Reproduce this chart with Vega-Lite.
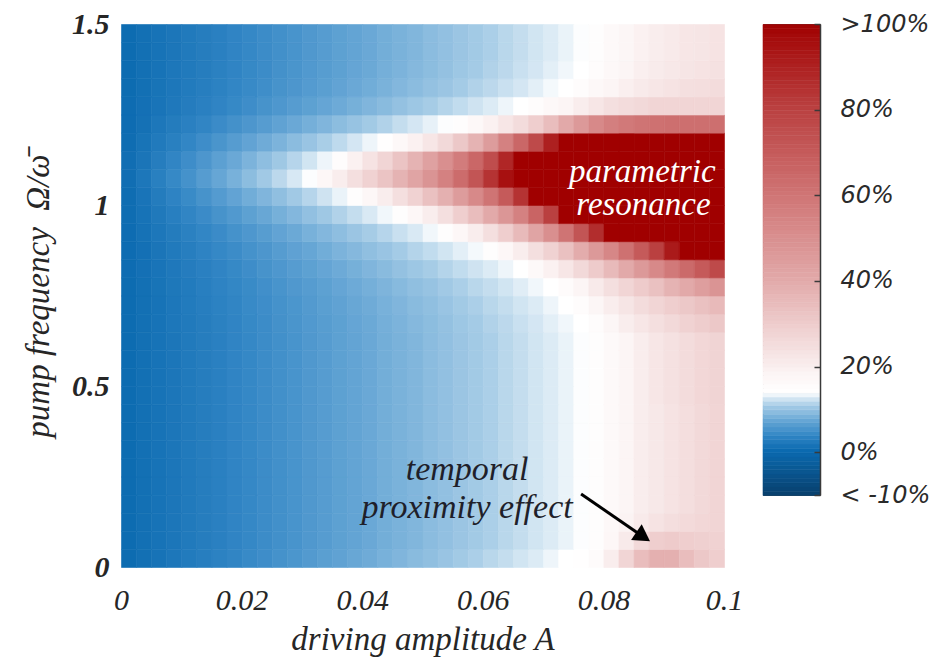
{
"$schema":"https://vega.github.io/schema/vega-lite/v6.json",
"background":"white",
"padding":{"left":22,"top":9,"right":5,"bottom":5},
"spacing":39,
"bounds":"flush",
"config":{"view":{"stroke":null},"axis":{"grid":false}},
"resolve":{"scale":{"color":"independent","stroke":"independent"}},
"datasets":{
"field":[
{"a":0,"w":0,"v":0.2},{"a":0.0025,"w":0,"v":0.7},{"a":0.005,"w":0,"v":1.1},{"a":0.0075,"w":0,"v":1.6},{"a":0.01,"w":0,"v":2.1},{"a":0.0125,"w":0,"v":2.5},{"a":0.015,"w":0,"v":3.0},{"a":0.0175,"w":0,"v":3.4},{"a":0.02,"w":0,"v":3.9},{"a":0.0225,"w":0,"v":4.3},{"a":0.025,"w":0,"v":4.8},{"a":0.0275,"w":0,"v":5.2},{"a":0.03,"w":0,"v":5.7},{"a":0.0325,"w":0,"v":6.2},{"a":0.035,"w":0,"v":6.6},{"a":0.0375,"w":0,"v":7.1},{"a":0.04,"w":0,"v":7.5},{"a":0.0425,"w":0,"v":8.0},{"a":0.045,"w":0,"v":8.4},{"a":0.0475,"w":0,"v":8.9},{"a":0.05,"w":0,"v":9.3},{"a":0.0525,"w":0,"v":9.8},{"a":0.055,"w":0,"v":10.3},{"a":0.0575,"w":0,"v":10.7},{"a":0.06,"w":0,"v":11.2},{"a":0.0625,"w":0,"v":11.6},{"a":0.065,"w":0,"v":12.1},{"a":0.0675,"w":0,"v":12.5},{"a":0.07,"w":0,"v":13.0},{"a":0.0725,"w":0,"v":13.5},{"a":0.075,"w":0,"v":14},{"a":0.0775,"w":0,"v":15.5},{"a":0.08,"w":0,"v":20},{"a":0.0825,"w":0,"v":27},{"a":0.085,"w":0,"v":34},{"a":0.0875,"w":0,"v":38},{"a":0.09,"w":0,"v":38},{"a":0.0925,"w":0,"v":34},{"a":0.095,"w":0,"v":31},{"a":0.0975,"w":0,"v":29},
{"a":0,"w":0.05,"v":0.2},{"a":0.0025,"w":0.05,"v":0.7},{"a":0.005,"w":0.05,"v":1.1},{"a":0.0075,"w":0.05,"v":1.5},{"a":0.01,"w":0.05,"v":2.0},{"a":0.0125,"w":0.05,"v":2.4},{"a":0.015,"w":0.05,"v":2.8},{"a":0.0175,"w":0.05,"v":3.3},{"a":0.02,"w":0.05,"v":3.7},{"a":0.0225,"w":0.05,"v":4.2},{"a":0.025,"w":0.05,"v":4.6},{"a":0.0275,"w":0.05,"v":5.0},{"a":0.03,"w":0.05,"v":5.5},{"a":0.0325,"w":0.05,"v":5.9},{"a":0.035,"w":0.05,"v":6.4},{"a":0.0375,"w":0.05,"v":6.8},{"a":0.04,"w":0.05,"v":7.2},{"a":0.0425,"w":0.05,"v":7.7},{"a":0.045,"w":0.05,"v":8.1},{"a":0.0475,"w":0.05,"v":8.5},{"a":0.05,"w":0.05,"v":9.0},{"a":0.0525,"w":0.05,"v":9.4},{"a":0.055,"w":0.05,"v":9.9},{"a":0.0575,"w":0.05,"v":10.3},{"a":0.06,"w":0.05,"v":10.7},{"a":0.0625,"w":0.05,"v":11.2},{"a":0.065,"w":0.05,"v":11.6},{"a":0.0675,"w":0.05,"v":12.1},{"a":0.07,"w":0.05,"v":12.5},{"a":0.0725,"w":0.05,"v":12.9},{"a":0.075,"w":0.05,"v":13.4},{"a":0.0775,"w":0.05,"v":14.5},{"a":0.08,"w":0.05,"v":17},{"a":0.0825,"w":0.05,"v":21},{"a":0.085,"w":0.05,"v":26},{"a":0.0875,"w":0.05,"v":29},{"a":0.09,"w":0.05,"v":30},{"a":0.0925,"w":0.05,"v":29},{"a":0.095,"w":0.05,"v":28.5},{"a":0.0975,"w":0.05,"v":28},
{"a":0,"w":0.1,"v":0.2},{"a":0.0025,"w":0.1,"v":0.7},{"a":0.005,"w":0.1,"v":1.1},{"a":0.0075,"w":0.1,"v":1.5},{"a":0.01,"w":0.1,"v":2.0},{"a":0.0125,"w":0.1,"v":2.4},{"a":0.015,"w":0.1,"v":2.8},{"a":0.0175,"w":0.1,"v":3.3},{"a":0.02,"w":0.1,"v":3.7},{"a":0.0225,"w":0.1,"v":4.2},{"a":0.025,"w":0.1,"v":4.6},{"a":0.0275,"w":0.1,"v":5.0},{"a":0.03,"w":0.1,"v":5.5},{"a":0.0325,"w":0.1,"v":5.9},{"a":0.035,"w":0.1,"v":6.4},{"a":0.0375,"w":0.1,"v":6.8},{"a":0.04,"w":0.1,"v":7.2},{"a":0.0425,"w":0.1,"v":7.7},{"a":0.045,"w":0.1,"v":8.1},{"a":0.0475,"w":0.1,"v":8.5},{"a":0.05,"w":0.1,"v":9.0},{"a":0.0525,"w":0.1,"v":9.4},{"a":0.055,"w":0.1,"v":9.9},{"a":0.0575,"w":0.1,"v":10.3},{"a":0.06,"w":0.1,"v":10.7},{"a":0.0625,"w":0.1,"v":11.2},{"a":0.065,"w":0.1,"v":11.6},{"a":0.0675,"w":0.1,"v":12.1},{"a":0.07,"w":0.1,"v":12.5},{"a":0.0725,"w":0.1,"v":12.9},{"a":0.075,"w":0.1,"v":13.4},{"a":0.0775,"w":0.1,"v":14.5},{"a":0.08,"w":0.1,"v":16.5},{"a":0.0825,"w":0.1,"v":18.5},{"a":0.085,"w":0.1,"v":21},{"a":0.0875,"w":0.1,"v":23},{"a":0.09,"w":0.1,"v":24.5},{"a":0.0925,"w":0.1,"v":25.5},{"a":0.095,"w":0.1,"v":26.5},{"a":0.0975,"w":0.1,"v":27},
{"a":0,"w":0.15,"v":0.2},{"a":0.0025,"w":0.15,"v":0.7},{"a":0.005,"w":0.15,"v":1.1},{"a":0.0075,"w":0.15,"v":1.5},{"a":0.01,"w":0.15,"v":2.0},{"a":0.0125,"w":0.15,"v":2.4},{"a":0.015,"w":0.15,"v":2.8},{"a":0.0175,"w":0.15,"v":3.3},{"a":0.02,"w":0.15,"v":3.7},{"a":0.0225,"w":0.15,"v":4.2},{"a":0.025,"w":0.15,"v":4.6},{"a":0.0275,"w":0.15,"v":5.0},{"a":0.03,"w":0.15,"v":5.5},{"a":0.0325,"w":0.15,"v":5.9},{"a":0.035,"w":0.15,"v":6.4},{"a":0.0375,"w":0.15,"v":6.8},{"a":0.04,"w":0.15,"v":7.2},{"a":0.0425,"w":0.15,"v":7.7},{"a":0.045,"w":0.15,"v":8.1},{"a":0.0475,"w":0.15,"v":8.5},{"a":0.05,"w":0.15,"v":9.0},{"a":0.0525,"w":0.15,"v":9.4},{"a":0.055,"w":0.15,"v":9.9},{"a":0.0575,"w":0.15,"v":10.3},{"a":0.06,"w":0.15,"v":10.7},{"a":0.0625,"w":0.15,"v":11.2},{"a":0.065,"w":0.15,"v":11.6},{"a":0.0675,"w":0.15,"v":12.1},{"a":0.07,"w":0.15,"v":12.5},{"a":0.0725,"w":0.15,"v":12.9},{"a":0.075,"w":0.15,"v":13.4},{"a":0.0775,"w":0.15,"v":14.5},{"a":0.08,"w":0.15,"v":16},{"a":0.0825,"w":0.15,"v":18},{"a":0.085,"w":0.15,"v":20},{"a":0.0875,"w":0.15,"v":21.5},{"a":0.09,"w":0.15,"v":23},{"a":0.0925,"w":0.15,"v":24.5},{"a":0.095,"w":0.15,"v":26},{"a":0.0975,"w":0.15,"v":27},
{"a":0,"w":0.2,"v":0.2},{"a":0.0025,"w":0.2,"v":0.7},{"a":0.005,"w":0.2,"v":1.1},{"a":0.0075,"w":0.2,"v":1.5},{"a":0.01,"w":0.2,"v":2.0},{"a":0.0125,"w":0.2,"v":2.4},{"a":0.015,"w":0.2,"v":2.8},{"a":0.0175,"w":0.2,"v":3.3},{"a":0.02,"w":0.2,"v":3.7},{"a":0.0225,"w":0.2,"v":4.2},{"a":0.025,"w":0.2,"v":4.6},{"a":0.0275,"w":0.2,"v":5.0},{"a":0.03,"w":0.2,"v":5.5},{"a":0.0325,"w":0.2,"v":5.9},{"a":0.035,"w":0.2,"v":6.4},{"a":0.0375,"w":0.2,"v":6.8},{"a":0.04,"w":0.2,"v":7.2},{"a":0.0425,"w":0.2,"v":7.7},{"a":0.045,"w":0.2,"v":8.1},{"a":0.0475,"w":0.2,"v":8.5},{"a":0.05,"w":0.2,"v":9.0},{"a":0.0525,"w":0.2,"v":9.4},{"a":0.055,"w":0.2,"v":9.9},{"a":0.0575,"w":0.2,"v":10.3},{"a":0.06,"w":0.2,"v":10.7},{"a":0.0625,"w":0.2,"v":11.2},{"a":0.065,"w":0.2,"v":11.6},{"a":0.0675,"w":0.2,"v":12.1},{"a":0.07,"w":0.2,"v":12.5},{"a":0.0725,"w":0.2,"v":12.9},{"a":0.075,"w":0.2,"v":13.4},{"a":0.0775,"w":0.2,"v":14.5},{"a":0.08,"w":0.2,"v":16},{"a":0.0825,"w":0.2,"v":18},{"a":0.085,"w":0.2,"v":20},{"a":0.0875,"w":0.2,"v":21.5},{"a":0.09,"w":0.2,"v":23},{"a":0.0925,"w":0.2,"v":24.5},{"a":0.095,"w":0.2,"v":26},{"a":0.0975,"w":0.2,"v":27},
{"a":0,"w":0.25,"v":0.2},{"a":0.0025,"w":0.25,"v":0.7},{"a":0.005,"w":0.25,"v":1.1},{"a":0.0075,"w":0.25,"v":1.5},{"a":0.01,"w":0.25,"v":2.0},{"a":0.0125,"w":0.25,"v":2.4},{"a":0.015,"w":0.25,"v":2.8},{"a":0.0175,"w":0.25,"v":3.3},{"a":0.02,"w":0.25,"v":3.7},{"a":0.0225,"w":0.25,"v":4.2},{"a":0.025,"w":0.25,"v":4.6},{"a":0.0275,"w":0.25,"v":5.0},{"a":0.03,"w":0.25,"v":5.5},{"a":0.0325,"w":0.25,"v":5.9},{"a":0.035,"w":0.25,"v":6.4},{"a":0.0375,"w":0.25,"v":6.8},{"a":0.04,"w":0.25,"v":7.2},{"a":0.0425,"w":0.25,"v":7.7},{"a":0.045,"w":0.25,"v":8.1},{"a":0.0475,"w":0.25,"v":8.5},{"a":0.05,"w":0.25,"v":9.0},{"a":0.0525,"w":0.25,"v":9.4},{"a":0.055,"w":0.25,"v":9.9},{"a":0.0575,"w":0.25,"v":10.3},{"a":0.06,"w":0.25,"v":10.7},{"a":0.0625,"w":0.25,"v":11.2},{"a":0.065,"w":0.25,"v":11.6},{"a":0.0675,"w":0.25,"v":12.1},{"a":0.07,"w":0.25,"v":12.5},{"a":0.0725,"w":0.25,"v":12.9},{"a":0.075,"w":0.25,"v":13.4},{"a":0.0775,"w":0.25,"v":14.5},{"a":0.08,"w":0.25,"v":16},{"a":0.0825,"w":0.25,"v":18},{"a":0.085,"w":0.25,"v":20},{"a":0.0875,"w":0.25,"v":21.5},{"a":0.09,"w":0.25,"v":23},{"a":0.0925,"w":0.25,"v":24.5},{"a":0.095,"w":0.25,"v":26},{"a":0.0975,"w":0.25,"v":27},
{"a":0,"w":0.3,"v":0.2},{"a":0.0025,"w":0.3,"v":0.7},{"a":0.005,"w":0.3,"v":1.1},{"a":0.0075,"w":0.3,"v":1.5},{"a":0.01,"w":0.3,"v":2.0},{"a":0.0125,"w":0.3,"v":2.4},{"a":0.015,"w":0.3,"v":2.8},{"a":0.0175,"w":0.3,"v":3.3},{"a":0.02,"w":0.3,"v":3.7},{"a":0.0225,"w":0.3,"v":4.2},{"a":0.025,"w":0.3,"v":4.6},{"a":0.0275,"w":0.3,"v":5.0},{"a":0.03,"w":0.3,"v":5.5},{"a":0.0325,"w":0.3,"v":5.9},{"a":0.035,"w":0.3,"v":6.4},{"a":0.0375,"w":0.3,"v":6.8},{"a":0.04,"w":0.3,"v":7.2},{"a":0.0425,"w":0.3,"v":7.7},{"a":0.045,"w":0.3,"v":8.1},{"a":0.0475,"w":0.3,"v":8.5},{"a":0.05,"w":0.3,"v":9.0},{"a":0.0525,"w":0.3,"v":9.4},{"a":0.055,"w":0.3,"v":9.9},{"a":0.0575,"w":0.3,"v":10.3},{"a":0.06,"w":0.3,"v":10.7},{"a":0.0625,"w":0.3,"v":11.2},{"a":0.065,"w":0.3,"v":11.6},{"a":0.0675,"w":0.3,"v":12.1},{"a":0.07,"w":0.3,"v":12.5},{"a":0.0725,"w":0.3,"v":12.9},{"a":0.075,"w":0.3,"v":13.4},{"a":0.0775,"w":0.3,"v":14.5},{"a":0.08,"w":0.3,"v":16},{"a":0.0825,"w":0.3,"v":18},{"a":0.085,"w":0.3,"v":20},{"a":0.0875,"w":0.3,"v":21.5},{"a":0.09,"w":0.3,"v":23},{"a":0.0925,"w":0.3,"v":24.5},{"a":0.095,"w":0.3,"v":26},{"a":0.0975,"w":0.3,"v":27},
{"a":0,"w":0.35,"v":0.2},{"a":0.0025,"w":0.35,"v":0.7},{"a":0.005,"w":0.35,"v":1.1},{"a":0.0075,"w":0.35,"v":1.5},{"a":0.01,"w":0.35,"v":2.0},{"a":0.0125,"w":0.35,"v":2.4},{"a":0.015,"w":0.35,"v":2.8},{"a":0.0175,"w":0.35,"v":3.3},{"a":0.02,"w":0.35,"v":3.7},{"a":0.0225,"w":0.35,"v":4.2},{"a":0.025,"w":0.35,"v":4.6},{"a":0.0275,"w":0.35,"v":5.0},{"a":0.03,"w":0.35,"v":5.5},{"a":0.0325,"w":0.35,"v":5.9},{"a":0.035,"w":0.35,"v":6.4},{"a":0.0375,"w":0.35,"v":6.8},{"a":0.04,"w":0.35,"v":7.2},{"a":0.0425,"w":0.35,"v":7.7},{"a":0.045,"w":0.35,"v":8.1},{"a":0.0475,"w":0.35,"v":8.5},{"a":0.05,"w":0.35,"v":9.0},{"a":0.0525,"w":0.35,"v":9.4},{"a":0.055,"w":0.35,"v":9.9},{"a":0.0575,"w":0.35,"v":10.3},{"a":0.06,"w":0.35,"v":10.7},{"a":0.0625,"w":0.35,"v":11.2},{"a":0.065,"w":0.35,"v":11.6},{"a":0.0675,"w":0.35,"v":12.1},{"a":0.07,"w":0.35,"v":12.5},{"a":0.0725,"w":0.35,"v":12.9},{"a":0.075,"w":0.35,"v":13.4},{"a":0.0775,"w":0.35,"v":14.5},{"a":0.08,"w":0.35,"v":16},{"a":0.0825,"w":0.35,"v":18},{"a":0.085,"w":0.35,"v":20},{"a":0.0875,"w":0.35,"v":21.5},{"a":0.09,"w":0.35,"v":23},{"a":0.0925,"w":0.35,"v":24.5},{"a":0.095,"w":0.35,"v":26},{"a":0.0975,"w":0.35,"v":27},
{"a":0,"w":0.4,"v":0.2},{"a":0.0025,"w":0.4,"v":0.7},{"a":0.005,"w":0.4,"v":1.1},{"a":0.0075,"w":0.4,"v":1.5},{"a":0.01,"w":0.4,"v":2.0},{"a":0.0125,"w":0.4,"v":2.4},{"a":0.015,"w":0.4,"v":2.8},{"a":0.0175,"w":0.4,"v":3.3},{"a":0.02,"w":0.4,"v":3.7},{"a":0.0225,"w":0.4,"v":4.2},{"a":0.025,"w":0.4,"v":4.6},{"a":0.0275,"w":0.4,"v":5.0},{"a":0.03,"w":0.4,"v":5.5},{"a":0.0325,"w":0.4,"v":5.9},{"a":0.035,"w":0.4,"v":6.4},{"a":0.0375,"w":0.4,"v":6.8},{"a":0.04,"w":0.4,"v":7.2},{"a":0.0425,"w":0.4,"v":7.7},{"a":0.045,"w":0.4,"v":8.1},{"a":0.0475,"w":0.4,"v":8.5},{"a":0.05,"w":0.4,"v":9.0},{"a":0.0525,"w":0.4,"v":9.4},{"a":0.055,"w":0.4,"v":9.9},{"a":0.0575,"w":0.4,"v":10.3},{"a":0.06,"w":0.4,"v":10.7},{"a":0.0625,"w":0.4,"v":11.2},{"a":0.065,"w":0.4,"v":11.6},{"a":0.0675,"w":0.4,"v":12.1},{"a":0.07,"w":0.4,"v":12.5},{"a":0.0725,"w":0.4,"v":12.9},{"a":0.075,"w":0.4,"v":13.4},{"a":0.0775,"w":0.4,"v":14.5},{"a":0.08,"w":0.4,"v":16},{"a":0.0825,"w":0.4,"v":18},{"a":0.085,"w":0.4,"v":20},{"a":0.0875,"w":0.4,"v":21.5},{"a":0.09,"w":0.4,"v":23},{"a":0.0925,"w":0.4,"v":24.5},{"a":0.095,"w":0.4,"v":26},{"a":0.0975,"w":0.4,"v":27},
{"a":0,"w":0.45,"v":0.2},{"a":0.0025,"w":0.45,"v":0.7},{"a":0.005,"w":0.45,"v":1.1},{"a":0.0075,"w":0.45,"v":1.5},{"a":0.01,"w":0.45,"v":2.0},{"a":0.0125,"w":0.45,"v":2.4},{"a":0.015,"w":0.45,"v":2.8},{"a":0.0175,"w":0.45,"v":3.3},{"a":0.02,"w":0.45,"v":3.7},{"a":0.0225,"w":0.45,"v":4.2},{"a":0.025,"w":0.45,"v":4.6},{"a":0.0275,"w":0.45,"v":5.0},{"a":0.03,"w":0.45,"v":5.5},{"a":0.0325,"w":0.45,"v":5.9},{"a":0.035,"w":0.45,"v":6.4},{"a":0.0375,"w":0.45,"v":6.8},{"a":0.04,"w":0.45,"v":7.2},{"a":0.0425,"w":0.45,"v":7.7},{"a":0.045,"w":0.45,"v":8.1},{"a":0.0475,"w":0.45,"v":8.5},{"a":0.05,"w":0.45,"v":9.0},{"a":0.0525,"w":0.45,"v":9.4},{"a":0.055,"w":0.45,"v":9.9},{"a":0.0575,"w":0.45,"v":10.3},{"a":0.06,"w":0.45,"v":10.7},{"a":0.0625,"w":0.45,"v":11.2},{"a":0.065,"w":0.45,"v":11.6},{"a":0.0675,"w":0.45,"v":12.1},{"a":0.07,"w":0.45,"v":12.5},{"a":0.0725,"w":0.45,"v":12.9},{"a":0.075,"w":0.45,"v":13.4},{"a":0.0775,"w":0.45,"v":14.5},{"a":0.08,"w":0.45,"v":16},{"a":0.0825,"w":0.45,"v":18},{"a":0.085,"w":0.45,"v":20},{"a":0.0875,"w":0.45,"v":22},{"a":0.09,"w":0.45,"v":23.5},{"a":0.0925,"w":0.45,"v":25},{"a":0.095,"w":0.45,"v":26.5},{"a":0.0975,"w":0.45,"v":27.5},
{"a":0,"w":0.5,"v":0.2},{"a":0.0025,"w":0.5,"v":0.7},{"a":0.005,"w":0.5,"v":1.1},{"a":0.0075,"w":0.5,"v":1.5},{"a":0.01,"w":0.5,"v":2.0},{"a":0.0125,"w":0.5,"v":2.4},{"a":0.015,"w":0.5,"v":2.8},{"a":0.0175,"w":0.5,"v":3.3},{"a":0.02,"w":0.5,"v":3.7},{"a":0.0225,"w":0.5,"v":4.2},{"a":0.025,"w":0.5,"v":4.6},{"a":0.0275,"w":0.5,"v":5.0},{"a":0.03,"w":0.5,"v":5.5},{"a":0.0325,"w":0.5,"v":5.9},{"a":0.035,"w":0.5,"v":6.4},{"a":0.0375,"w":0.5,"v":6.8},{"a":0.04,"w":0.5,"v":7.2},{"a":0.0425,"w":0.5,"v":7.7},{"a":0.045,"w":0.5,"v":8.1},{"a":0.0475,"w":0.5,"v":8.5},{"a":0.05,"w":0.5,"v":9.0},{"a":0.0525,"w":0.5,"v":9.4},{"a":0.055,"w":0.5,"v":9.9},{"a":0.0575,"w":0.5,"v":10.3},{"a":0.06,"w":0.5,"v":10.7},{"a":0.0625,"w":0.5,"v":11.2},{"a":0.065,"w":0.5,"v":11.6},{"a":0.0675,"w":0.5,"v":12.1},{"a":0.07,"w":0.5,"v":12.5},{"a":0.0725,"w":0.5,"v":12.9},{"a":0.075,"w":0.5,"v":13.4},{"a":0.0775,"w":0.5,"v":14.5},{"a":0.08,"w":0.5,"v":16},{"a":0.0825,"w":0.5,"v":18},{"a":0.085,"w":0.5,"v":20},{"a":0.0875,"w":0.5,"v":22},{"a":0.09,"w":0.5,"v":23.5},{"a":0.0925,"w":0.5,"v":25},{"a":0.095,"w":0.5,"v":26.5},{"a":0.0975,"w":0.5,"v":27.5},
{"a":0,"w":0.55,"v":0.2},{"a":0.0025,"w":0.55,"v":0.7},{"a":0.005,"w":0.55,"v":1.1},{"a":0.0075,"w":0.55,"v":1.5},{"a":0.01,"w":0.55,"v":2.0},{"a":0.0125,"w":0.55,"v":2.4},{"a":0.015,"w":0.55,"v":2.8},{"a":0.0175,"w":0.55,"v":3.3},{"a":0.02,"w":0.55,"v":3.7},{"a":0.0225,"w":0.55,"v":4.2},{"a":0.025,"w":0.55,"v":4.6},{"a":0.0275,"w":0.55,"v":5.0},{"a":0.03,"w":0.55,"v":5.5},{"a":0.0325,"w":0.55,"v":5.9},{"a":0.035,"w":0.55,"v":6.4},{"a":0.0375,"w":0.55,"v":6.8},{"a":0.04,"w":0.55,"v":7.2},{"a":0.0425,"w":0.55,"v":7.7},{"a":0.045,"w":0.55,"v":8.1},{"a":0.0475,"w":0.55,"v":8.5},{"a":0.05,"w":0.55,"v":9.0},{"a":0.0525,"w":0.55,"v":9.4},{"a":0.055,"w":0.55,"v":9.9},{"a":0.0575,"w":0.55,"v":10.3},{"a":0.06,"w":0.55,"v":10.7},{"a":0.0625,"w":0.55,"v":11.2},{"a":0.065,"w":0.55,"v":11.6},{"a":0.0675,"w":0.55,"v":12.1},{"a":0.07,"w":0.55,"v":12.5},{"a":0.0725,"w":0.55,"v":12.9},{"a":0.075,"w":0.55,"v":13.4},{"a":0.0775,"w":0.55,"v":14.5},{"a":0.08,"w":0.55,"v":16},{"a":0.0825,"w":0.55,"v":18},{"a":0.085,"w":0.55,"v":20},{"a":0.0875,"w":0.55,"v":22},{"a":0.09,"w":0.55,"v":23.5},{"a":0.0925,"w":0.55,"v":25},{"a":0.095,"w":0.55,"v":26.5},{"a":0.0975,"w":0.55,"v":27.5},
{"a":0,"w":0.6,"v":0.2},{"a":0.0025,"w":0.6,"v":0.7},{"a":0.005,"w":0.6,"v":1.1},{"a":0.0075,"w":0.6,"v":1.5},{"a":0.01,"w":0.6,"v":2.0},{"a":0.0125,"w":0.6,"v":2.4},{"a":0.015,"w":0.6,"v":2.8},{"a":0.0175,"w":0.6,"v":3.3},{"a":0.02,"w":0.6,"v":3.7},{"a":0.0225,"w":0.6,"v":4.2},{"a":0.025,"w":0.6,"v":4.6},{"a":0.0275,"w":0.6,"v":5.0},{"a":0.03,"w":0.6,"v":5.5},{"a":0.0325,"w":0.6,"v":5.9},{"a":0.035,"w":0.6,"v":6.4},{"a":0.0375,"w":0.6,"v":6.8},{"a":0.04,"w":0.6,"v":7.2},{"a":0.0425,"w":0.6,"v":7.7},{"a":0.045,"w":0.6,"v":8.1},{"a":0.0475,"w":0.6,"v":8.5},{"a":0.05,"w":0.6,"v":9.0},{"a":0.0525,"w":0.6,"v":9.4},{"a":0.055,"w":0.6,"v":9.9},{"a":0.0575,"w":0.6,"v":10.3},{"a":0.06,"w":0.6,"v":10.7},{"a":0.0625,"w":0.6,"v":11.2},{"a":0.065,"w":0.6,"v":11.6},{"a":0.0675,"w":0.6,"v":12.1},{"a":0.07,"w":0.6,"v":12.5},{"a":0.0725,"w":0.6,"v":12.9},{"a":0.075,"w":0.6,"v":13.4},{"a":0.0775,"w":0.6,"v":14.5},{"a":0.08,"w":0.6,"v":16},{"a":0.0825,"w":0.6,"v":18},{"a":0.085,"w":0.6,"v":20},{"a":0.0875,"w":0.6,"v":22},{"a":0.09,"w":0.6,"v":23.5},{"a":0.0925,"w":0.6,"v":25},{"a":0.095,"w":0.6,"v":26.5},{"a":0.0975,"w":0.6,"v":27.5},
{"a":0,"w":0.65,"v":0.2},{"a":0.0025,"w":0.65,"v":0.7},{"a":0.005,"w":0.65,"v":1.1},{"a":0.0075,"w":0.65,"v":1.6},{"a":0.01,"w":0.65,"v":2.0},{"a":0.0125,"w":0.65,"v":2.4},{"a":0.015,"w":0.65,"v":2.9},{"a":0.0175,"w":0.65,"v":3.3},{"a":0.02,"w":0.65,"v":3.8},{"a":0.0225,"w":0.65,"v":4.2},{"a":0.025,"w":0.65,"v":4.7},{"a":0.0275,"w":0.65,"v":5.1},{"a":0.03,"w":0.65,"v":5.6},{"a":0.0325,"w":0.65,"v":6.0},{"a":0.035,"w":0.65,"v":6.4},{"a":0.0375,"w":0.65,"v":6.9},{"a":0.04,"w":0.65,"v":7.3},{"a":0.0425,"w":0.65,"v":7.8},{"a":0.045,"w":0.65,"v":8.2},{"a":0.0475,"w":0.65,"v":8.7},{"a":0.05,"w":0.65,"v":9.1},{"a":0.0525,"w":0.65,"v":9.5},{"a":0.055,"w":0.65,"v":10.0},{"a":0.0575,"w":0.65,"v":10.4},{"a":0.06,"w":0.65,"v":10.9},{"a":0.0625,"w":0.65,"v":11.3},{"a":0.065,"w":0.65,"v":11.8},{"a":0.0675,"w":0.65,"v":12.2},{"a":0.07,"w":0.65,"v":12.7},{"a":0.0725,"w":0.65,"v":13.1},{"a":0.075,"w":0.65,"v":13.6},{"a":0.0775,"w":0.65,"v":15},{"a":0.08,"w":0.65,"v":17.5},{"a":0.0825,"w":0.65,"v":20},{"a":0.085,"w":0.65,"v":22},{"a":0.0875,"w":0.65,"v":24},{"a":0.09,"w":0.65,"v":26},{"a":0.0925,"w":0.65,"v":28},{"a":0.095,"w":0.65,"v":29.5},{"a":0.0975,"w":0.65,"v":31},
{"a":0,"w":0.7,"v":0.2},{"a":0.0025,"w":0.7,"v":0.7},{"a":0.005,"w":0.7,"v":1.1},{"a":0.0075,"w":0.7,"v":1.6},{"a":0.01,"w":0.7,"v":2.1},{"a":0.0125,"w":0.7,"v":2.5},{"a":0.015,"w":0.7,"v":3.0},{"a":0.0175,"w":0.7,"v":3.4},{"a":0.02,"w":0.7,"v":3.9},{"a":0.0225,"w":0.7,"v":4.3},{"a":0.025,"w":0.7,"v":4.8},{"a":0.0275,"w":0.7,"v":5.2},{"a":0.03,"w":0.7,"v":5.7},{"a":0.0325,"w":0.7,"v":6.2},{"a":0.035,"w":0.7,"v":6.6},{"a":0.0375,"w":0.7,"v":7.1},{"a":0.04,"w":0.7,"v":7.5},{"a":0.0425,"w":0.7,"v":8.0},{"a":0.045,"w":0.7,"v":8.4},{"a":0.0475,"w":0.7,"v":8.9},{"a":0.05,"w":0.7,"v":9.3},{"a":0.0525,"w":0.7,"v":9.8},{"a":0.055,"w":0.7,"v":10.3},{"a":0.0575,"w":0.7,"v":10.7},{"a":0.06,"w":0.7,"v":11.2},{"a":0.0625,"w":0.7,"v":11.6},{"a":0.065,"w":0.7,"v":12.1},{"a":0.0675,"w":0.7,"v":12.5},{"a":0.07,"w":0.7,"v":13.0},{"a":0.0725,"w":0.7,"v":13.5},{"a":0.075,"w":0.7,"v":15},{"a":0.0775,"w":0.7,"v":17.5},{"a":0.08,"w":0.7,"v":20},{"a":0.0825,"w":0.7,"v":22.5},{"a":0.085,"w":0.7,"v":25},{"a":0.0875,"w":0.7,"v":27},{"a":0.09,"w":0.7,"v":29},{"a":0.0925,"w":0.7,"v":31},{"a":0.095,"w":0.7,"v":33},{"a":0.0975,"w":0.7,"v":35},
{"a":0,"w":0.75,"v":0.2},{"a":0.0025,"w":0.75,"v":0.7},{"a":0.005,"w":0.75,"v":1.2},{"a":0.0075,"w":0.75,"v":1.7},{"a":0.01,"w":0.75,"v":2.1},{"a":0.0125,"w":0.75,"v":2.6},{"a":0.015,"w":0.75,"v":3.1},{"a":0.0175,"w":0.75,"v":3.6},{"a":0.02,"w":0.75,"v":4.0},{"a":0.0225,"w":0.75,"v":4.5},{"a":0.025,"w":0.75,"v":5.0},{"a":0.0275,"w":0.75,"v":5.5},{"a":0.03,"w":0.75,"v":5.9},{"a":0.0325,"w":0.75,"v":6.4},{"a":0.035,"w":0.75,"v":6.9},{"a":0.0375,"w":0.75,"v":7.4},{"a":0.04,"w":0.75,"v":7.8},{"a":0.0425,"w":0.75,"v":8.3},{"a":0.045,"w":0.75,"v":8.8},{"a":0.0475,"w":0.75,"v":9.3},{"a":0.05,"w":0.75,"v":9.7},{"a":0.0525,"w":0.75,"v":10.2},{"a":0.055,"w":0.75,"v":10.7},{"a":0.0575,"w":0.75,"v":11.2},{"a":0.06,"w":0.75,"v":11.6},{"a":0.0625,"w":0.75,"v":12.1},{"a":0.065,"w":0.75,"v":12.6},{"a":0.0675,"w":0.75,"v":13.1},{"a":0.07,"w":0.75,"v":13.6},{"a":0.0725,"w":0.75,"v":15.5},{"a":0.075,"w":0.75,"v":18},{"a":0.0775,"w":0.75,"v":21},{"a":0.08,"w":0.75,"v":24},{"a":0.0825,"w":0.75,"v":27},{"a":0.085,"w":0.75,"v":30},{"a":0.0875,"w":0.75,"v":33},{"a":0.09,"w":0.75,"v":37},{"a":0.0925,"w":0.75,"v":40},{"a":0.095,"w":0.75,"v":44},{"a":0.0975,"w":0.75,"v":48},
{"a":0,"w":0.8,"v":0.3},{"a":0.0025,"w":0.8,"v":0.8},{"a":0.005,"w":0.8,"v":1.3},{"a":0.0075,"w":0.8,"v":1.8},{"a":0.01,"w":0.8,"v":2.3},{"a":0.0125,"w":0.8,"v":2.8},{"a":0.015,"w":0.8,"v":3.3},{"a":0.0175,"w":0.8,"v":3.8},{"a":0.02,"w":0.8,"v":4.3},{"a":0.0225,"w":0.8,"v":4.9},{"a":0.025,"w":0.8,"v":5.4},{"a":0.0275,"w":0.8,"v":5.9},{"a":0.03,"w":0.8,"v":6.4},{"a":0.0325,"w":0.8,"v":6.9},{"a":0.035,"w":0.8,"v":7.4},{"a":0.0375,"w":0.8,"v":7.9},{"a":0.04,"w":0.8,"v":8.4},{"a":0.0425,"w":0.8,"v":8.9},{"a":0.045,"w":0.8,"v":9.5},{"a":0.0475,"w":0.8,"v":10.0},{"a":0.05,"w":0.8,"v":10.5},{"a":0.0525,"w":0.8,"v":11.0},{"a":0.055,"w":0.8,"v":11.5},{"a":0.0575,"w":0.8,"v":12.0},{"a":0.06,"w":0.8,"v":12.5},{"a":0.0625,"w":0.8,"v":13.0},{"a":0.065,"w":0.8,"v":13.6},{"a":0.0675,"w":0.8,"v":16},{"a":0.07,"w":0.8,"v":19},{"a":0.0725,"w":0.8,"v":22},{"a":0.075,"w":0.8,"v":26},{"a":0.0775,"w":0.8,"v":30},{"a":0.08,"w":0.8,"v":35},{"a":0.0825,"w":0.8,"v":40},{"a":0.085,"w":0.8,"v":46},{"a":0.0875,"w":0.8,"v":52},{"a":0.09,"w":0.8,"v":58},{"a":0.0925,"w":0.8,"v":64},{"a":0.095,"w":0.8,"v":70},{"a":0.0975,"w":0.8,"v":76},
{"a":0,"w":0.85,"v":0.3},{"a":0.0025,"w":0.85,"v":0.8},{"a":0.005,"w":0.85,"v":1.4},{"a":0.0075,"w":0.85,"v":2.0},{"a":0.01,"w":0.85,"v":2.5},{"a":0.0125,"w":0.85,"v":3.1},{"a":0.015,"w":0.85,"v":3.7},{"a":0.0175,"w":0.85,"v":4.2},{"a":0.02,"w":0.85,"v":4.8},{"a":0.0225,"w":0.85,"v":5.3},{"a":0.025,"w":0.85,"v":5.9},{"a":0.0275,"w":0.85,"v":6.5},{"a":0.03,"w":0.85,"v":7.0},{"a":0.0325,"w":0.85,"v":7.6},{"a":0.035,"w":0.85,"v":8.2},{"a":0.0375,"w":0.85,"v":8.7},{"a":0.04,"w":0.85,"v":9.3},{"a":0.0425,"w":0.85,"v":9.8},{"a":0.045,"w":0.85,"v":10.4},{"a":0.0475,"w":0.85,"v":11.0},{"a":0.05,"w":0.85,"v":11.5},{"a":0.0525,"w":0.85,"v":12.1},{"a":0.055,"w":0.85,"v":12.7},{"a":0.0575,"w":0.85,"v":13.2},{"a":0.06,"w":0.85,"v":14.5},{"a":0.0625,"w":0.85,"v":17},{"a":0.065,"w":0.85,"v":20},{"a":0.0675,"w":0.85,"v":24},{"a":0.07,"w":0.85,"v":28},{"a":0.0725,"w":0.85,"v":33},{"a":0.075,"w":0.85,"v":39},{"a":0.0775,"w":0.85,"v":46},{"a":0.08,"w":0.85,"v":53},{"a":0.0825,"w":0.85,"v":61},{"a":0.085,"w":0.85,"v":70},{"a":0.0875,"w":0.85,"v":80},{"a":0.09,"w":0.85,"v":92},{"a":0.0925,"w":0.85,"v":101},{"a":0.095,"w":0.85,"v":104},{"a":0.0975,"w":0.85,"v":106},
{"a":0,"w":0.9,"v":0.3},{"a":0.0025,"w":0.9,"v":1.0},{"a":0.005,"w":0.9,"v":1.6},{"a":0.0075,"w":0.9,"v":2.2},{"a":0.01,"w":0.9,"v":2.9},{"a":0.0125,"w":0.9,"v":3.5},{"a":0.015,"w":0.9,"v":4.1},{"a":0.0175,"w":0.9,"v":4.8},{"a":0.02,"w":0.9,"v":5.4},{"a":0.0225,"w":0.9,"v":6.0},{"a":0.025,"w":0.9,"v":6.7},{"a":0.0275,"w":0.9,"v":7.3},{"a":0.03,"w":0.9,"v":8.0},{"a":0.0325,"w":0.9,"v":8.6},{"a":0.035,"w":0.9,"v":9.2},{"a":0.0375,"w":0.9,"v":9.9},{"a":0.04,"w":0.9,"v":10.5},{"a":0.0425,"w":0.9,"v":11.1},{"a":0.045,"w":0.9,"v":11.8},{"a":0.0475,"w":0.9,"v":12.4},{"a":0.05,"w":0.9,"v":13.1},{"a":0.0525,"w":0.9,"v":14.3},{"a":0.055,"w":0.9,"v":17},{"a":0.0575,"w":0.9,"v":20},{"a":0.06,"w":0.9,"v":24},{"a":0.0625,"w":0.9,"v":29},{"a":0.065,"w":0.9,"v":35},{"a":0.0675,"w":0.9,"v":42},{"a":0.07,"w":0.9,"v":50},{"a":0.0725,"w":0.9,"v":60},{"a":0.075,"w":0.9,"v":72},{"a":0.0775,"w":0.9,"v":86},{"a":0.08,"w":0.9,"v":101},{"a":0.0825,"w":0.9,"v":108},{"a":0.085,"w":0.9,"v":115},{"a":0.0875,"w":0.9,"v":120},{"a":0.09,"w":0.9,"v":124},{"a":0.0925,"w":0.9,"v":126},{"a":0.095,"w":0.9,"v":128},{"a":0.0975,"w":0.9,"v":128},
{"a":0,"w":0.95,"v":0.4},{"a":0.0025,"w":0.95,"v":1.1},{"a":0.005,"w":0.95,"v":1.9},{"a":0.0075,"w":0.95,"v":2.6},{"a":0.01,"w":0.95,"v":3.4},{"a":0.0125,"w":0.95,"v":4.1},{"a":0.015,"w":0.95,"v":4.9},{"a":0.0175,"w":0.95,"v":5.6},{"a":0.02,"w":0.95,"v":6.4},{"a":0.0225,"w":0.95,"v":7.1},{"a":0.025,"w":0.95,"v":7.9},{"a":0.0275,"w":0.95,"v":8.6},{"a":0.03,"w":0.95,"v":9.4},{"a":0.0325,"w":0.95,"v":10.1},{"a":0.035,"w":0.95,"v":10.9},{"a":0.0375,"w":0.95,"v":11.6},{"a":0.04,"w":0.95,"v":12.4},{"a":0.0425,"w":0.95,"v":13.1},{"a":0.045,"w":0.95,"v":14.5},{"a":0.0475,"w":0.95,"v":17},{"a":0.05,"w":0.95,"v":20},{"a":0.0525,"w":0.95,"v":24},{"a":0.055,"w":0.95,"v":29},{"a":0.0575,"w":0.95,"v":34},{"a":0.06,"w":0.95,"v":40},{"a":0.0625,"w":0.95,"v":47},{"a":0.065,"w":0.95,"v":55},{"a":0.0675,"w":0.95,"v":66},{"a":0.07,"w":0.95,"v":80},{"a":0.0725,"w":0.95,"v":102},{"a":0.075,"w":0.95,"v":110},{"a":0.0775,"w":0.95,"v":120},{"a":0.08,"w":0.95,"v":128},{"a":0.0825,"w":0.95,"v":135},{"a":0.085,"w":0.95,"v":140},{"a":0.0875,"w":0.95,"v":142},{"a":0.09,"w":0.95,"v":144},{"a":0.0925,"w":0.95,"v":145},{"a":0.095,"w":0.95,"v":145},{"a":0.0975,"w":0.95,"v":145},
{"a":0,"w":1,"v":0.4},{"a":0.0025,"w":1,"v":1.3},{"a":0.005,"w":1,"v":2.2},{"a":0.0075,"w":1,"v":3.1},{"a":0.01,"w":1,"v":4.0},{"a":0.0125,"w":1,"v":4.9},{"a":0.015,"w":1,"v":5.8},{"a":0.0175,"w":1,"v":6.7},{"a":0.02,"w":1,"v":7.6},{"a":0.0225,"w":1,"v":8.4},{"a":0.025,"w":1,"v":9.3},{"a":0.0275,"w":1,"v":10.2},{"a":0.03,"w":1,"v":11.1},{"a":0.0325,"w":1,"v":12.0},{"a":0.035,"w":1,"v":12.9},{"a":0.0375,"w":1,"v":14.5},{"a":0.04,"w":1,"v":17},{"a":0.0425,"w":1,"v":20},{"a":0.045,"w":1,"v":24},{"a":0.0475,"w":1,"v":28},{"a":0.05,"w":1,"v":33},{"a":0.0525,"w":1,"v":38},{"a":0.055,"w":1,"v":45},{"a":0.0575,"w":1,"v":52},{"a":0.06,"w":1,"v":60},{"a":0.0625,"w":1,"v":70},{"a":0.065,"w":1,"v":84},{"a":0.0675,"w":1,"v":102},{"a":0.07,"w":1,"v":112},{"a":0.0725,"w":1,"v":122},{"a":0.075,"w":1,"v":132},{"a":0.0775,"w":1,"v":140},{"a":0.08,"w":1,"v":145},{"a":0.0825,"w":1,"v":148},{"a":0.085,"w":1,"v":150},{"a":0.0875,"w":1,"v":150},{"a":0.09,"w":1,"v":150},{"a":0.0925,"w":1,"v":150},{"a":0.095,"w":1,"v":150},{"a":0.0975,"w":1,"v":150},
{"a":0,"w":1.05,"v":0.5},{"a":0.0025,"w":1.05,"v":1.6},{"a":0.005,"w":1.05,"v":2.7},{"a":0.0075,"w":1.05,"v":3.8},{"a":0.01,"w":1.05,"v":4.8},{"a":0.0125,"w":1.05,"v":5.9},{"a":0.015,"w":1.05,"v":7.0},{"a":0.0175,"w":1.05,"v":8.0},{"a":0.02,"w":1.05,"v":9.1},{"a":0.0225,"w":1.05,"v":10.2},{"a":0.025,"w":1.05,"v":11.3},{"a":0.0275,"w":1.05,"v":12.3},{"a":0.03,"w":1.05,"v":13.4},{"a":0.0325,"w":1.05,"v":17},{"a":0.035,"w":1.05,"v":20},{"a":0.0375,"w":1.05,"v":24},{"a":0.04,"w":1.05,"v":28},{"a":0.0425,"w":1.05,"v":32},{"a":0.045,"w":1.05,"v":37},{"a":0.0475,"w":1.05,"v":42},{"a":0.05,"w":1.05,"v":48},{"a":0.0525,"w":1.05,"v":55},{"a":0.055,"w":1.05,"v":63},{"a":0.0575,"w":1.05,"v":72},{"a":0.06,"w":1.05,"v":84},{"a":0.0625,"w":1.05,"v":95},{"a":0.065,"w":1.05,"v":104},{"a":0.0675,"w":1.05,"v":115},{"a":0.07,"w":1.05,"v":125},{"a":0.0725,"w":1.05,"v":135},{"a":0.075,"w":1.05,"v":142},{"a":0.0775,"w":1.05,"v":148},{"a":0.08,"w":1.05,"v":150},{"a":0.0825,"w":1.05,"v":150},{"a":0.085,"w":1.05,"v":150},{"a":0.0875,"w":1.05,"v":150},{"a":0.09,"w":1.05,"v":150},{"a":0.0925,"w":1.05,"v":150},{"a":0.095,"w":1.05,"v":150},{"a":0.0975,"w":1.05,"v":150},
{"a":0,"w":1.1,"v":0.5},{"a":0.0025,"w":1.1,"v":1.4},{"a":0.005,"w":1.1,"v":2.4},{"a":0.0075,"w":1.1,"v":3.4},{"a":0.01,"w":1.1,"v":4.3},{"a":0.0125,"w":1.1,"v":5.3},{"a":0.015,"w":1.1,"v":6.3},{"a":0.0175,"w":1.1,"v":7.2},{"a":0.02,"w":1.1,"v":8.2},{"a":0.0225,"w":1.1,"v":9.2},{"a":0.025,"w":1.1,"v":10.1},{"a":0.0275,"w":1.1,"v":11.1},{"a":0.03,"w":1.1,"v":12.1},{"a":0.0325,"w":1.1,"v":13.0},{"a":0.035,"w":1.1,"v":15},{"a":0.0375,"w":1.1,"v":19},{"a":0.04,"w":1.1,"v":23},{"a":0.0425,"w":1.1,"v":27},{"a":0.045,"w":1.1,"v":32},{"a":0.0475,"w":1.1,"v":37},{"a":0.05,"w":1.1,"v":43},{"a":0.0525,"w":1.1,"v":50},{"a":0.055,"w":1.1,"v":57},{"a":0.0575,"w":1.1,"v":65},{"a":0.06,"w":1.1,"v":75},{"a":0.0625,"w":1.1,"v":88},{"a":0.065,"w":1.1,"v":102},{"a":0.0675,"w":1.1,"v":110},{"a":0.07,"w":1.1,"v":118},{"a":0.0725,"w":1.1,"v":125},{"a":0.075,"w":1.1,"v":130},{"a":0.0775,"w":1.1,"v":135},{"a":0.08,"w":1.1,"v":138},{"a":0.0825,"w":1.1,"v":140},{"a":0.085,"w":1.1,"v":140},{"a":0.0875,"w":1.1,"v":140},{"a":0.09,"w":1.1,"v":140},{"a":0.0925,"w":1.1,"v":140},{"a":0.095,"w":1.1,"v":140},{"a":0.0975,"w":1.1,"v":140},
{"a":0,"w":1.15,"v":0.4},{"a":0.0025,"w":1.15,"v":1.2},{"a":0.005,"w":1.15,"v":2.0},{"a":0.0075,"w":1.15,"v":2.7},{"a":0.01,"w":1.15,"v":3.5},{"a":0.0125,"w":1.15,"v":4.3},{"a":0.015,"w":1.15,"v":5.1},{"a":0.0175,"w":1.15,"v":5.9},{"a":0.02,"w":1.15,"v":6.7},{"a":0.0225,"w":1.15,"v":7.5},{"a":0.025,"w":1.15,"v":8.2},{"a":0.0275,"w":1.15,"v":9.0},{"a":0.03,"w":1.15,"v":9.8},{"a":0.0325,"w":1.15,"v":10.6},{"a":0.035,"w":1.15,"v":11.4},{"a":0.0375,"w":1.15,"v":12.2},{"a":0.04,"w":1.15,"v":13.0},{"a":0.0425,"w":1.15,"v":14},{"a":0.045,"w":1.15,"v":16.5},{"a":0.0475,"w":1.15,"v":19},{"a":0.05,"w":1.15,"v":22},{"a":0.0525,"w":1.15,"v":26},{"a":0.055,"w":1.15,"v":31},{"a":0.0575,"w":1.15,"v":37},{"a":0.06,"w":1.15,"v":45},{"a":0.0625,"w":1.15,"v":55},{"a":0.065,"w":1.15,"v":65},{"a":0.0675,"w":1.15,"v":76},{"a":0.07,"w":1.15,"v":90},{"a":0.0725,"w":1.15,"v":104},{"a":0.075,"w":1.15,"v":108},{"a":0.0775,"w":1.15,"v":112},{"a":0.08,"w":1.15,"v":115},{"a":0.0825,"w":1.15,"v":118},{"a":0.085,"w":1.15,"v":120},{"a":0.0875,"w":1.15,"v":120},{"a":0.09,"w":1.15,"v":120},{"a":0.0925,"w":1.15,"v":120},{"a":0.095,"w":1.15,"v":120},{"a":0.0975,"w":1.15,"v":120},
{"a":0,"w":1.2,"v":0.3},{"a":0.0025,"w":1.2,"v":0.9},{"a":0.005,"w":1.2,"v":1.6},{"a":0.0075,"w":1.2,"v":2.2},{"a":0.01,"w":1.2,"v":2.8},{"a":0.0125,"w":1.2,"v":3.4},{"a":0.015,"w":1.2,"v":4.1},{"a":0.0175,"w":1.2,"v":4.7},{"a":0.02,"w":1.2,"v":5.3},{"a":0.0225,"w":1.2,"v":5.9},{"a":0.025,"w":1.2,"v":6.6},{"a":0.0275,"w":1.2,"v":7.2},{"a":0.03,"w":1.2,"v":7.8},{"a":0.0325,"w":1.2,"v":8.4},{"a":0.035,"w":1.2,"v":9.1},{"a":0.0375,"w":1.2,"v":9.7},{"a":0.04,"w":1.2,"v":10.3},{"a":0.0425,"w":1.2,"v":10.9},{"a":0.045,"w":1.2,"v":11.6},{"a":0.0475,"w":1.2,"v":12.2},{"a":0.05,"w":1.2,"v":12.8},{"a":0.0525,"w":1.2,"v":13.4},{"a":0.055,"w":1.2,"v":14.5},{"a":0.0575,"w":1.2,"v":16.5},{"a":0.06,"w":1.2,"v":19},{"a":0.0625,"w":1.2,"v":22},{"a":0.065,"w":1.2,"v":25},{"a":0.0675,"w":1.2,"v":29},{"a":0.07,"w":1.2,"v":34},{"a":0.0725,"w":1.2,"v":40},{"a":0.075,"w":1.2,"v":46},{"a":0.0775,"w":1.2,"v":52},{"a":0.08,"w":1.2,"v":56},{"a":0.0825,"w":1.2,"v":58},{"a":0.085,"w":1.2,"v":60},{"a":0.0875,"w":1.2,"v":61},{"a":0.09,"w":1.2,"v":62},{"a":0.0925,"w":1.2,"v":62},{"a":0.095,"w":1.2,"v":62},{"a":0.0975,"w":1.2,"v":62},
{"a":0,"w":1.25,"v":0.3},{"a":0.0025,"w":1.25,"v":0.8},{"a":0.005,"w":1.25,"v":1.3},{"a":0.0075,"w":1.25,"v":1.8},{"a":0.01,"w":1.25,"v":2.3},{"a":0.0125,"w":1.25,"v":2.8},{"a":0.015,"w":1.25,"v":3.3},{"a":0.0175,"w":1.25,"v":3.8},{"a":0.02,"w":1.25,"v":4.3},{"a":0.0225,"w":1.25,"v":4.9},{"a":0.025,"w":1.25,"v":5.4},{"a":0.0275,"w":1.25,"v":5.9},{"a":0.03,"w":1.25,"v":6.4},{"a":0.0325,"w":1.25,"v":6.9},{"a":0.035,"w":1.25,"v":7.4},{"a":0.0375,"w":1.25,"v":7.9},{"a":0.04,"w":1.25,"v":8.4},{"a":0.0425,"w":1.25,"v":8.9},{"a":0.045,"w":1.25,"v":9.5},{"a":0.0475,"w":1.25,"v":10.0},{"a":0.05,"w":1.25,"v":10.5},{"a":0.0525,"w":1.25,"v":11.0},{"a":0.055,"w":1.25,"v":11.5},{"a":0.0575,"w":1.25,"v":12.0},{"a":0.06,"w":1.25,"v":12.5},{"a":0.0625,"w":1.25,"v":13.0},{"a":0.065,"w":1.25,"v":13.6},{"a":0.0675,"w":1.25,"v":15},{"a":0.07,"w":1.25,"v":16.5},{"a":0.0725,"w":1.25,"v":18},{"a":0.075,"w":1.25,"v":20},{"a":0.0775,"w":1.25,"v":22},{"a":0.08,"w":1.25,"v":24},{"a":0.0825,"w":1.25,"v":25},{"a":0.085,"w":1.25,"v":26},{"a":0.0875,"w":1.25,"v":27},{"a":0.09,"w":1.25,"v":27},{"a":0.0925,"w":1.25,"v":27},{"a":0.095,"w":1.25,"v":27},{"a":0.0975,"w":1.25,"v":27},
{"a":0,"w":1.3,"v":0.2},{"a":0.0025,"w":1.3,"v":0.7},{"a":0.005,"w":1.3,"v":1.2},{"a":0.0075,"w":1.3,"v":1.6},{"a":0.01,"w":1.3,"v":2.1},{"a":0.0125,"w":1.3,"v":2.5},{"a":0.015,"w":1.3,"v":3.0},{"a":0.0175,"w":1.3,"v":3.5},{"a":0.02,"w":1.3,"v":3.9},{"a":0.0225,"w":1.3,"v":4.4},{"a":0.025,"w":1.3,"v":4.9},{"a":0.0275,"w":1.3,"v":5.3},{"a":0.03,"w":1.3,"v":5.8},{"a":0.0325,"w":1.3,"v":6.2},{"a":0.035,"w":1.3,"v":6.7},{"a":0.0375,"w":1.3,"v":7.2},{"a":0.04,"w":1.3,"v":7.6},{"a":0.0425,"w":1.3,"v":8.1},{"a":0.045,"w":1.3,"v":8.6},{"a":0.0475,"w":1.3,"v":9.0},{"a":0.05,"w":1.3,"v":9.5},{"a":0.0525,"w":1.3,"v":9.9},{"a":0.055,"w":1.3,"v":10.4},{"a":0.0575,"w":1.3,"v":10.9},{"a":0.06,"w":1.3,"v":11.3},{"a":0.0625,"w":1.3,"v":11.8},{"a":0.065,"w":1.3,"v":12.2},{"a":0.0675,"w":1.3,"v":12.7},{"a":0.07,"w":1.3,"v":13.2},{"a":0.0725,"w":1.3,"v":13.6},{"a":0.075,"w":1.3,"v":15},{"a":0.0775,"w":1.3,"v":16.5},{"a":0.08,"w":1.3,"v":18},{"a":0.0825,"w":1.3,"v":19.5},{"a":0.085,"w":1.3,"v":21},{"a":0.0875,"w":1.3,"v":22},{"a":0.09,"w":1.3,"v":23},{"a":0.0925,"w":1.3,"v":24},{"a":0.095,"w":1.3,"v":24.5},{"a":0.0975,"w":1.3,"v":25},
{"a":0,"w":1.35,"v":0.2},{"a":0.0025,"w":1.35,"v":0.7},{"a":0.005,"w":1.35,"v":1.1},{"a":0.0075,"w":1.35,"v":1.6},{"a":0.01,"w":1.35,"v":2.0},{"a":0.0125,"w":1.35,"v":2.4},{"a":0.015,"w":1.35,"v":2.9},{"a":0.0175,"w":1.35,"v":3.3},{"a":0.02,"w":1.35,"v":3.8},{"a":0.0225,"w":1.35,"v":4.2},{"a":0.025,"w":1.35,"v":4.7},{"a":0.0275,"w":1.35,"v":5.1},{"a":0.03,"w":1.35,"v":5.6},{"a":0.0325,"w":1.35,"v":6.0},{"a":0.035,"w":1.35,"v":6.4},{"a":0.0375,"w":1.35,"v":6.9},{"a":0.04,"w":1.35,"v":7.3},{"a":0.0425,"w":1.35,"v":7.8},{"a":0.045,"w":1.35,"v":8.2},{"a":0.0475,"w":1.35,"v":8.7},{"a":0.05,"w":1.35,"v":9.1},{"a":0.0525,"w":1.35,"v":9.5},{"a":0.055,"w":1.35,"v":10.0},{"a":0.0575,"w":1.35,"v":10.4},{"a":0.06,"w":1.35,"v":10.9},{"a":0.0625,"w":1.35,"v":11.3},{"a":0.065,"w":1.35,"v":11.8},{"a":0.0675,"w":1.35,"v":12.2},{"a":0.07,"w":1.35,"v":12.7},{"a":0.0725,"w":1.35,"v":13.1},{"a":0.075,"w":1.35,"v":13.6},{"a":0.0775,"w":1.35,"v":15},{"a":0.08,"w":1.35,"v":16.5},{"a":0.0825,"w":1.35,"v":18},{"a":0.085,"w":1.35,"v":19.5},{"a":0.0875,"w":1.35,"v":20.5},{"a":0.09,"w":1.35,"v":21.5},{"a":0.0925,"w":1.35,"v":22.5},{"a":0.095,"w":1.35,"v":23},{"a":0.0975,"w":1.35,"v":23.5},
{"a":0,"w":1.4,"v":0.2},{"a":0.0025,"w":1.4,"v":0.7},{"a":0.005,"w":1.4,"v":1.1},{"a":0.0075,"w":1.4,"v":1.5},{"a":0.01,"w":1.4,"v":2.0},{"a":0.0125,"w":1.4,"v":2.4},{"a":0.015,"w":1.4,"v":2.8},{"a":0.0175,"w":1.4,"v":3.3},{"a":0.02,"w":1.4,"v":3.7},{"a":0.0225,"w":1.4,"v":4.2},{"a":0.025,"w":1.4,"v":4.6},{"a":0.0275,"w":1.4,"v":5.0},{"a":0.03,"w":1.4,"v":5.5},{"a":0.0325,"w":1.4,"v":5.9},{"a":0.035,"w":1.4,"v":6.4},{"a":0.0375,"w":1.4,"v":6.8},{"a":0.04,"w":1.4,"v":7.2},{"a":0.0425,"w":1.4,"v":7.7},{"a":0.045,"w":1.4,"v":8.1},{"a":0.0475,"w":1.4,"v":8.5},{"a":0.05,"w":1.4,"v":9.0},{"a":0.0525,"w":1.4,"v":9.4},{"a":0.055,"w":1.4,"v":9.9},{"a":0.0575,"w":1.4,"v":10.3},{"a":0.06,"w":1.4,"v":10.7},{"a":0.0625,"w":1.4,"v":11.2},{"a":0.065,"w":1.4,"v":11.6},{"a":0.0675,"w":1.4,"v":12.1},{"a":0.07,"w":1.4,"v":12.5},{"a":0.0725,"w":1.4,"v":12.9},{"a":0.075,"w":1.4,"v":13.4},{"a":0.0775,"w":1.4,"v":14.5},{"a":0.08,"w":1.4,"v":16},{"a":0.0825,"w":1.4,"v":17.5},{"a":0.085,"w":1.4,"v":19},{"a":0.0875,"w":1.4,"v":20},{"a":0.09,"w":1.4,"v":21},{"a":0.0925,"w":1.4,"v":22},{"a":0.095,"w":1.4,"v":22.5},{"a":0.0975,"w":1.4,"v":23},
{"a":0,"w":1.45,"v":0.2},{"a":0.0025,"w":1.45,"v":0.7},{"a":0.005,"w":1.45,"v":1.1},{"a":0.0075,"w":1.45,"v":1.5},{"a":0.01,"w":1.45,"v":2.0},{"a":0.0125,"w":1.45,"v":2.4},{"a":0.015,"w":1.45,"v":2.8},{"a":0.0175,"w":1.45,"v":3.3},{"a":0.02,"w":1.45,"v":3.7},{"a":0.0225,"w":1.45,"v":4.2},{"a":0.025,"w":1.45,"v":4.6},{"a":0.0275,"w":1.45,"v":5.0},{"a":0.03,"w":1.45,"v":5.5},{"a":0.0325,"w":1.45,"v":5.9},{"a":0.035,"w":1.45,"v":6.4},{"a":0.0375,"w":1.45,"v":6.8},{"a":0.04,"w":1.45,"v":7.2},{"a":0.0425,"w":1.45,"v":7.7},{"a":0.045,"w":1.45,"v":8.1},{"a":0.0475,"w":1.45,"v":8.5},{"a":0.05,"w":1.45,"v":9.0},{"a":0.0525,"w":1.45,"v":9.4},{"a":0.055,"w":1.45,"v":9.9},{"a":0.0575,"w":1.45,"v":10.3},{"a":0.06,"w":1.45,"v":10.7},{"a":0.0625,"w":1.45,"v":11.2},{"a":0.065,"w":1.45,"v":11.6},{"a":0.0675,"w":1.45,"v":12.1},{"a":0.07,"w":1.45,"v":12.5},{"a":0.0725,"w":1.45,"v":12.9},{"a":0.075,"w":1.45,"v":13.4},{"a":0.0775,"w":1.45,"v":14.5},{"a":0.08,"w":1.45,"v":16},{"a":0.0825,"w":1.45,"v":17.5},{"a":0.085,"w":1.45,"v":19},{"a":0.0875,"w":1.45,"v":20},{"a":0.09,"w":1.45,"v":21},{"a":0.0925,"w":1.45,"v":22},{"a":0.095,"w":1.45,"v":22.5},{"a":0.0975,"w":1.45,"v":23}
],
"bar":[
{"c":-10},{"c":-9},{"c":-8},{"c":-7},{"c":-6},{"c":-5},{"c":-4},{"c":-3},{"c":-2},{"c":-1},
{"c":0},{"c":1},{"c":2},{"c":3},{"c":4},{"c":5},{"c":6},{"c":7},{"c":8},{"c":9},
{"c":10},{"c":11},{"c":12},{"c":13},{"c":14},{"c":15},{"c":16},{"c":17},{"c":18},{"c":19},
{"c":20},{"c":21},{"c":22},{"c":23},{"c":24},{"c":25},{"c":26},{"c":27},{"c":28},{"c":29},
{"c":30},{"c":31},{"c":32},{"c":33},{"c":34},{"c":35},{"c":36},{"c":37},{"c":38},{"c":39},
{"c":40},{"c":41},{"c":42},{"c":43},{"c":44},{"c":45},{"c":46},{"c":47},{"c":48},{"c":49},
{"c":50},{"c":51},{"c":52},{"c":53},{"c":54},{"c":55},{"c":56},{"c":57},{"c":58},{"c":59},
{"c":60},{"c":61},{"c":62},{"c":63},{"c":64},{"c":65},{"c":66},{"c":67},{"c":68},{"c":69},
{"c":70},{"c":71},{"c":72},{"c":73},{"c":74},{"c":75},{"c":76},{"c":77},{"c":78},{"c":79},
{"c":80},{"c":81},{"c":82},{"c":83},{"c":84},{"c":85},{"c":86},{"c":87},{"c":88},{"c":89},
{"c":90},{"c":91},{"c":92},{"c":93},{"c":94},{"c":95},{"c":96},{"c":97},{"c":98},{"c":99}
],
"resonanceLabel":[{"a":0.0743,"w":1.091,"t":"parametric"},{"a":0.0755,"w":1.0,"t":"resonance"}],
"proximityLabel":[{"a":0.0574,"w":0.268,"t":"temporal"},{"a":0.0574,"w":0.163,"t":"proximity effect"}],
"arrow":[{"a":0.0763,"w":0.2017,"a2":0.0866,"w2":0.0837}],
"head":[{"a":0.0866,"w":0.0837}]
},
"hconcat":[
{
"width":603,"height":543,
"layer":[
{"data":{"name":"field"},
 "mark":{"type":"rect","strokeWidth":0.6},
 "encoding":{
  "x":{"field":"a","type":"quantitative","bin":{"binned":true,"step":0.0025},
       "scale":{"domain":[0,0.1],"nice":false,"zero":false},
       "title":"driving amplitude A",
       "axis":{"values":[0,0.02,0.04,0.06,0.08,0.1],"format":"~g","domain":false,"ticks":false,"labelFlush":false,"labelOverlap":false,
               "labelFont":"Liberation Serif","labelFontStyle":"italic","labelFontSize":30,"labelColor":"#262626","labelPadding":18,
               "titleFont":"Liberation Serif","titleFontStyle":"italic","titleFontWeight":"normal","titleFontSize":33,"titleColor":"#262626","titlePadding":8}},
  "y":{"field":"w","type":"quantitative","bin":{"binned":true,"step":0.05},
       "scale":{"domain":[0,1.5],"nice":false,"zero":false},
       "title":"pump frequency\u2002\u03a9/\u03c9\u0304",
       "axis":{"values":[0,0.5,1,1.5],"format":"~g","domain":false,"ticks":false,"labelOverlap":false,"labelFlush":false,
               "labelFont":"Liberation Serif","labelFontStyle":"italic","labelFontWeight":"bold","labelFontSize":30,"labelColor":"#262626","labelPadding":12,
               "titleFont":"Liberation Serif","titleFontStyle":"italic","titleFontWeight":"normal","titleFontSize":33,"titleColor":"#262626","titlePadding":16}},
  "color":{"field":"v","type":"quantitative","legend":null,
       "scale":{"type":"linear","clamp":true,"interpolate":"rgb",
                "domain":[-10,0,3.5,7,10.5,12.5,13.5,18,20,40,60,80,100],
                "range":["#08416f","#0b6ab0","#3286c5","#66a6d5","#a6cce6","#dcebf5","#ffffff","#fcf5f5","#f9eded","#e2a9a9","#cf7474","#ba4040","#a00000"]}},
  "stroke":{"field":"v","type":"quantitative","legend":null,
       "scale":{"type":"linear","clamp":true,"interpolate":"rgb",
                "domain":[-10,0,3.5,7,10.5,12.5,13.5,18,20,40,60,80,100],
                "range":["#08416f","#0b6ab0","#3286c5","#66a6d5","#a6cce6","#dcebf5","#ffffff","#fcf5f5","#f9eded","#e2a9a9","#cf7474","#ba4040","#a00000"]}}
 }},
{"data":{"name":"resonanceLabel"},
 "mark":{"type":"text","font":"Liberation Serif","fontStyle":"italic","fontSize":33,"color":"#ffffff","align":"left","baseline":"middle","clip":true},
 "encoding":{
  "x":{"field":"a","type":"quantitative","title":"driving amplitude A"},
  "y":{"field":"w","type":"quantitative","title":"pump frequency\u2002\u03a9/\u03c9\u0304"},
  "text":{"field":"t"}}},
{"data":{"name":"proximityLabel"},
 "mark":{"type":"text","font":"Liberation Serif","fontStyle":"italic","fontSize":34,"color":"#1f1f2a","align":"center","baseline":"middle"},
 "encoding":{
  "x":{"field":"a","type":"quantitative","title":"driving amplitude A"},
  "y":{"field":"w","type":"quantitative","title":"pump frequency\u2002\u03a9/\u03c9\u0304"},
  "text":{"field":"t"}}},
{"data":{"name":"arrow"},
 "mark":{"type":"rule","color":"#000000","strokeWidth":3},
 "encoding":{
  "x":{"field":"a","type":"quantitative","title":"driving amplitude A"},
  "y":{"field":"w","type":"quantitative","title":"pump frequency\u2002\u03a9/\u03c9\u0304"},
  "x2":{"field":"a2"},
  "y2":{"field":"w2"}}},
{"data":{"name":"head"},
 "mark":{"type":"point","shape":"triangle-right","angle":34,"size":360,"filled":true,"color":"#000000","opacity":1},
 "encoding":{
  "x":{"field":"a","type":"quantitative","title":"driving amplitude A"},
  "y":{"field":"w","type":"quantitative","title":"pump frequency\u2002\u03a9/\u03c9\u0304"}}}
]
},
{
"width":57,"height":471,
"view":{"stroke":"#4d4d4d","strokeWidth":1},
"data":{"name":"bar"},
"mark":{"type":"rect","strokeWidth":0.6},
"encoding":{
 "y":{"field":"c","type":"quantitative","bin":{"binned":true,"step":1},
      "scale":{"domain":[-10,100],"nice":false,"zero":false},
      "title":null,
      "axis":{"orient":"right","values":[-10,0,20,40,60,80,100],
              "labelExpr":"datum.value >= 100 ? '>100%' : datum.value <= -10 ? '< -10%' : datum.value + '%'",
              "domain":true,"domainColor":"#3a3a3a","domainWidth":1.5,"ticks":true,"tickSize":-6,"tickColor":"#3a3a3a","tickWidth":1.5,
              "labelFont":"DejaVu Sans","labelFontStyle":"italic","labelFontSize":24,"labelColor":"#2a2a2a","labelPadding":26,"labelOverlap":false,"labelFlush":false}},
 "color":{"field":"c","type":"quantitative","legend":null,
       "scale":{"type":"linear","clamp":true,"interpolate":"rgb",
                "domain":[-10,0,3.5,7,10.5,12.5,13.5,18,20,40,60,80,100],
                "range":["#08416f","#0b6ab0","#3286c5","#66a6d5","#a6cce6","#dcebf5","#ffffff","#fcf5f5","#f9eded","#e2a9a9","#cf7474","#ba4040","#a00000"]}},
 "stroke":{"field":"c","type":"quantitative","legend":null,
       "scale":{"type":"linear","clamp":true,"interpolate":"rgb",
                "domain":[-10,0,3.5,7,10.5,12.5,13.5,18,20,40,60,80,100],
                "range":["#08416f","#0b6ab0","#3286c5","#66a6d5","#a6cce6","#dcebf5","#ffffff","#fcf5f5","#f9eded","#e2a9a9","#cf7474","#ba4040","#a00000"]}}
}
}
]
}
